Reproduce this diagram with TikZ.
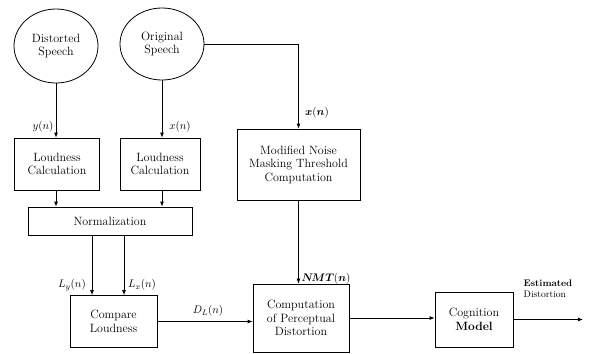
\documentclass[tikz,border=0pt]{standalone}
\usepackage{bm}
\usetikzlibrary{shapes.geometric,arrows.meta}
\begin{document}
\begin{tikzpicture}[x=1pt,y=-1pt,
  every node/.style={font=\fontsize{12}{13.5}\selectfont},
  blk/.style={draw,thick,rectangle,align=center,inner sep=1pt},
  src/.style={draw,thick,ellipse,align=center,inner sep=0pt},
  arr/.style={thick,-{Latex[length=5pt,width=4pt]}},
  lbl/.style={font=\fontsize{11}{13}\selectfont}]
\useasboundingbox (0,0) rectangle (590,354);
\node[src,minimum width=84pt,minimum height=74pt] (ds) at (56,46) {Distorted\\Speech};
\node[src,minimum width=84pt,minimum height=72pt] (os) at (162,44) {Original\\Speech};
\node[blk,minimum width=85pt,minimum height=52pt] (lc1) at (57,164) {Loudness\\Calculation};
\node[blk,minimum width=80pt,minimum height=52pt] (lc2) at (160,164) {Loudness\\Calculation};
\node[blk,minimum width=164pt,minimum height=28pt] (norm) at (110,221) {Normalization};
\node[blk,minimum width=87pt,minimum height=52pt] (cmp) at (113.5,321.5) {Compare\\Loudness};
\node[blk,minimum width=123pt,minimum height=71pt] (mod) at (298.5,164.5) {Modified Noise\\Masking Threshold\\Computation};
\node[blk,minimum width=96pt,minimum height=68pt] (comp) at (301,318) {Computation\\of Perceptual\\Distortion};
\node[blk,minimum width=78pt,minimum height=55pt] (cog) at (474,319.5) {Cognition\\\textbf{Model}};
\coordinate (out) at (583,319.5);
\coordinate (l1) at ([xshift=-21.5pt]cmp.north);
\coordinate (l2) at ([xshift=10.5pt]cmp.north);

\draw[arr] (ds.south) -- (ds.south |- lc1.north);
\draw[arr] (os.south) -- (os.south |- lc2.north);
\draw[arr] (ds.south |- lc1.south) -- (ds.south |- norm.north);
\draw[arr] (os.south |- lc2.south) -- (os.south |- norm.north);
\draw[arr] (l1 |- norm.south) -- (l1);
\draw[arr] (l2 |- norm.south) -- (l2);
\draw[arr] (os.east) -| (mod.north);
\draw[arr] (mod.south) -- (mod.south |- comp.north);
\draw[arr] (cmp.east) -- (cmp.east -| comp.west);
\draw[arr] (comp.east) -- (comp.east -| cog.west);
\draw[arr] (cog.east) -- (out);

\node[lbl] (ly) at (43,127) {$y(n)$};
\node[lbl] (lx) at (180,127) {$x(n)$};
\node[lbl] (lxb) at (317,113) {$\bm{x}(\bm{n})$};
\node[lbl] (nmt) at (326,279) {$\bm{N\!MT}(\bm{n})$};
\node[lbl] (lyy) at (72,285) {$L_y(n)$};
\node[lbl] (lxx) at (142,285) {$L_x(n)$};
\node[lbl] (dl) at (208,311) {$D_L(n)$};
\node[font=\fontsize{9.5}{11}\selectfont,align=left] (est) at (548,289) {\textbf{Estimated}\\Distortion};
\end{tikzpicture}
\end{document}
